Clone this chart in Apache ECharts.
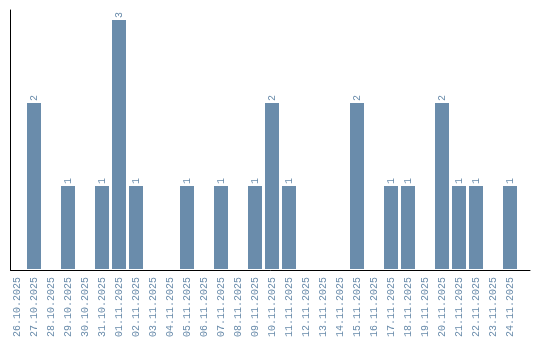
<!DOCTYPE html>
<html><head><meta charset="utf-8">
<script src="https://cdn.jsdelivr.net/npm/echarts@6/dist/echarts.min.js"></script>
<style>html,body{margin:0;padding:0;background:#fff}#c{width:540px;height:340px}</style>
</head><body><div id="c"></div>
<script>
var categories = ["26.10.2025","27.10.2025","28.10.2025","29.10.2025","30.10.2025","31.10.2025","01.11.2025","02.11.2025","03.11.2025","04.11.2025","05.11.2025","06.11.2025","07.11.2025","08.11.2025","09.11.2025","10.11.2025","11.11.2025","12.11.2025","13.11.2025","14.11.2025","15.11.2025","16.11.2025","17.11.2025","18.11.2025","19.11.2025","20.11.2025","21.11.2025","22.11.2025","23.11.2025","24.11.2025"];
var counts = [0,2,0,1,0,1,3,1,0,0,1,0,1,0,1,2,1,0,0,0,2,0,1,1,0,2,1,1,0,1];

var color = '#6a8cab';
var font = '"Liberation Mono", monospace';
var chart = echarts.init(document.getElementById('c'));
chart.setOption({
  animation: false,
  grid: [
    {left: 8.5, width: 510, top: 10, bottom: 70},
    {left: 10.5, right: 10, top: 10, bottom: 70}
  ],
  xAxis: [
    {type: 'category', gridIndex: 0, data: categories,
     axisLine: {show: false}, axisTick: {show: false},
     axisLabel: {rotate: 90, interval: 0, color: color, fontFamily: font, fontSize: 10, margin: 8}},
    {type: 'category', gridIndex: 1, data: [],
     axisLine: {show: true, lineStyle: {color: '#000', width: 1}}, axisTick: {show: false}, axisLabel: {show: false}}
  ],
  yAxis: [
    {type: 'value', gridIndex: 0, min: 0, max: 3.12,
     axisLine: {show: false}, axisTick: {show: false}, axisLabel: {show: false}, splitLine: {show: false}},
    {type: 'value', gridIndex: 1, min: 0, max: 1,
     axisLine: {show: true, lineStyle: {color: '#000', width: 1}}, axisTick: {show: false}, axisLabel: {show: false}, splitLine: {show: false}}
  ],
  series: [{
    type: 'bar', xAxisIndex: 0, yAxisIndex: 0,
    data: counts,
    barWidth: 14,
    itemStyle: {color: color},
    label: {
      show: true, position: 'top', distance: 2, rotate: 90,
      align: 'left', verticalAlign: 'middle',
      color: color, fontFamily: font, fontSize: 10,
      formatter: function(p){ return p.value ? String(p.value) : ''; }
    }
  }]
});
</script></body></html>
